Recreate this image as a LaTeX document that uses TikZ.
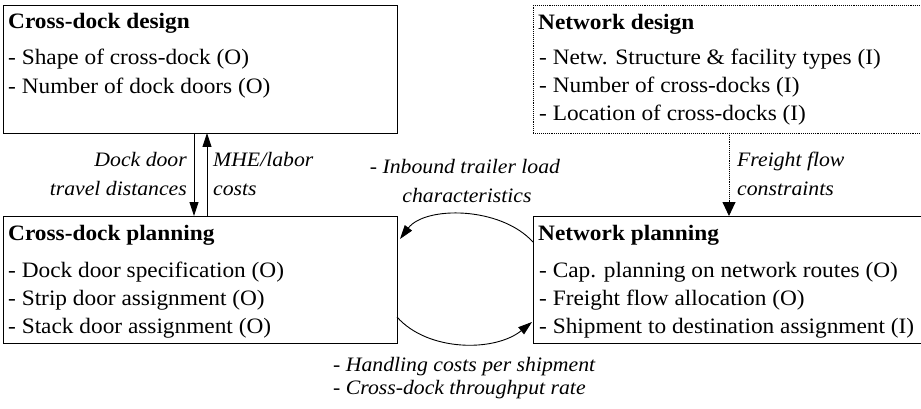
\documentclass[tikz,border=0pt]{standalone}
\usepackage{fontspec}
\setmainfont{Liberation Serif}[FakeStretch=1.06]
\usetikzlibrary{arrows.meta,calc}
\begin{document}
\begin{tikzpicture}[x=1pt,y=-1pt,
  box/.style={draw,line width=1.1pt,inner sep=0,anchor=north west},
  dbox/.style={draw,densely dotted,line width=0.9pt,inner sep=0,anchor=north west},
  ttl/.style={anchor=base west,inner sep=0,font=\fontsize{22}{26}\selectfont\bfseries},
  ln/.style={anchor=base west,inner sep=0,font=\fontsize{22}{26}\selectfont},
  lab/.style={inner sep=0,font=\fontsize{20.5}{24}\selectfont\itshape},
  arr/.style={line width=0.9pt,-{Triangle[length=14pt,width=9pt]}},
  darr/.style={line width=0.9pt,densely dotted,-{Triangle[length=14pt,width=13pt]}}]
\useasboundingbox (0,0) rectangle (921,409);
% boxes
\node[box,minimum width=394pt,minimum height=128pt] (cdd) at (3,5) {};
\node[dbox,minimum width=400pt,minimum height=128pt] (nd) at (533,5) {};
\node[box,minimum width=394pt,minimum height=127pt] (cdp) at (3,216) {};
\node[box,minimum width=400pt,minimum height=127pt] (np) at (533,216) {};
% texts: cross-dock design
\node[ttl] (a0) at (8,29) {Cross-dock design};
\node[ln] (a1) at (8,65) {- Shape of cross-dock (O)};
\node[ln] (a2) at (8,94) {- Number of dock doors (O)};
% network design
\node[ttl] (b0) at (538,30) {Network design};
\node[ln] (b1) at (539,65) {- Netw. Structure \& facility types (I)};
\node[ln] (b2) at (539,93) {- Number of cross-docks (I)};
\node[ln] (b3) at (539,121) {- Location of cross-docks (I)};
% cross-dock planning
\node[ttl] (c0) at (8,240) {Cross-dock planning};
\node[ln] (c1) at (8,277) {- Dock door specification (O)};
\node[ln] (c2) at (8,305) {- Strip door assignment (O)};
\node[ln] (c3) at (8,333) {- Stack door assignment (O)};
% network planning
\node[ttl] (d0) at (538,240) {Network planning};
\node[ln] (d1) at (539,277) {- Cap. planning on network routes (O)};
\node[ln] (d2) at (539,305) {- Freight flow allocation (O)};
\node[ln] (d3) at (539,333) {- Shipment to destination assignment (I)};
% vertical connectors
\coordinate (v1) at (194,133);
\coordinate (v2) at (207,133);
\coordinate (v3) at (729,133);
\draw[arr] (v1) -- (v1 |- cdp.north);
\draw[arr] (v2 |- cdp.north) -- (v2);
\draw[darr] (v3) -- (v3 |- np.north);
% curved connectors
\coordinate (p1) at (533,242);
\coordinate (p2) at (400,239);
\draw[arr] (p1) .. controls (500,206) and (425,206) .. (p2);
\coordinate (q1) at (397,317);
\coordinate (q2) at (532,322);
\draw[arr] (q1) .. controls (428,352) and (495,352) .. (q2);
% labels
\node[lab,anchor=base east] (l1a) at (187,167) {Dock door};
\node[lab,anchor=base east] (l1b) at (187,195) {travel distances};
\node[lab,anchor=base west] (l2a) at (213,167) {MHE/labor};
\node[lab,anchor=base west] (l2b) at (213,195) {costs};
\node[lab,anchor=base] (l3a) at (465,173) {- Inbound trailer load};
\node[lab,anchor=base] (l3b) at (467,202) {characteristics};
\node[lab,anchor=base west] (l4a) at (737,167) {Freight flow};
\node[lab,anchor=base west] (l4b) at (737,195) {constraints};
\node[lab,anchor=base west] (l5a) at (333,371) {- Handling costs per shipment};
\node[lab,anchor=base west] (l5b) at (333,394) {- Cross-dock throughput rate};
\end{tikzpicture}
\end{document}
